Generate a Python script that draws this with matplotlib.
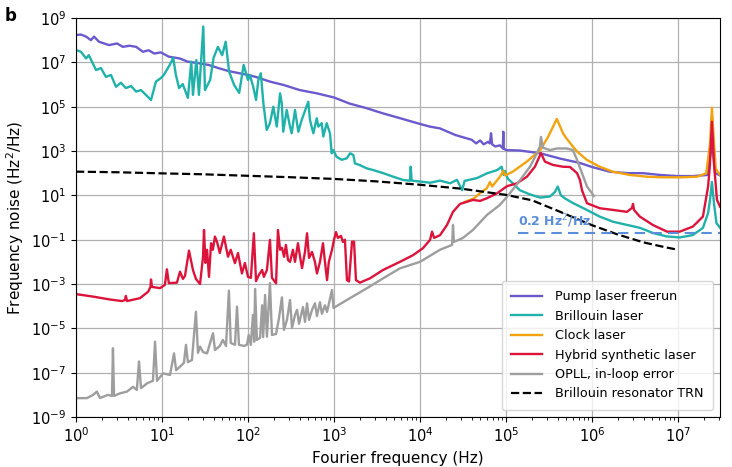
import matplotlib
matplotlib.use("Agg")
import matplotlib.pyplot as plt
from matplotlib.ticker import LogLocator, NullLocator, NullFormatter

# ---------------- data (frequency in Hz, noise in Hz^2/Hz) ----------------
pump = [(1, 1.7e8), (1.14, 1.8e8), (1.31, 1.45e8), (1.49, 1.0e8), (1.62, 1.45e8), (1.85, 8.5e7),
        (2.42, 6.0e7), (3.0, 7.1e7), (3.5, 5.0e7), (4.2, 5.6e7), (5.0, 5.0e7), (6.0, 3.0e7),
        (7.0, 3.5e7), (8.1, 2.5e7), (9.7, 2.8e7), (12, 1.8e7), (16, 1.5e7), (20, 1.07e7),
        (27, 9.1e6), (35, 7.6e6), (46, 5.4e6), (60, 4.0e6), (80, 3.2e6), (100, 2.7e6),
        (123, 2.2e6), (180, 1.35e6), (260, 9.5e5), (400, 5.6e5), (630, 4.0e5), (1000, 2.6e5),
        (1500, 1.4e5), (2400, 8.5e4), (3700, 5.0e4), (5900, 3.0e4), (9300, 1.8e4), (1.3e4, 1.26e4),
        (1.7e4, 1.05e4), (2.6e4, 5.2e3), (4.0e4, 3.2e3), (4.5e4, 2.2e3), (5.0e4, 3.0e3),
        (5.5e4, 2.0e3), (6.2e4, 2.6e3), (6.5e4, 2.2e3), (6.7e4, 6.3e3), (6.9e4, 2.0e3),
        (7.5e4, 1.6e3), (8.5e4, 1.8e3), (9.2e4, 1.3e3), (9.3e4, 7.4e3), (9.4e4, 1.3e3),
        (1.0e5, 1.1e3), (1.45e5, 1.05e3), (2.5e5, 790), (4.3e5, 450), (7.2e5, 290),
        (1.0e6, 190), (1.6e6, 117), (2.6e6, 100), (3.9e6, 100), (6.2e6, 83), (9.8e6, 74),
        (1.5e7, 74), (2.2e7, 83), (2.42e7, 1.0e3), (2.48e7, 3.2e4), (2.55e7, 1.0e3),
        (2.7e7, 100), (3.08e7, 80)]

brillouin = [(1, 3.6e7), (1.14, 3.0e7), (1.31, 1.5e7), (1.41, 2.1e7), (1.71, 4.5e6), (1.95, 5.5e6),
             (2.23, 2.2e6), (2.55, 2.7e6), (2.92, 7.9e5), (3.33, 1.2e6), (3.8, 6.9e5), (4.37, 8.5e5),
             (5.0, 4.8e5), (5.7, 5.6e5), (6.5, 3.4e5), (7.45, 2.0e5), (8.5, 1.35e6), (9.7, 1.95e6),
             (10.5, 2.7e6), (12.3, 7.6e6), (13.5, 1.6e7), (14.5, 2.7e6), (15.8, 6.9e5), (17.4, 1.05e6),
             (20, 2.5e5), (21.9, 1.07e7), (22.9, 3.4e5), (25.1, 1.26e7), (26.9, 3.4e5), (30.2, 4.1e8),
             (31.6, 5.6e5), (36.3, 1.6e6), (39.8, 1.6e7), (44.7, 5.0e7), (50.1, 2.1e7), (55, 8.5e7),
             (60.3, 3.8e6), (69, 9.5e5), (79, 4.2e5), (89, 7.6e6), (100, 1.6e6), (105, 2.7e6),
             (115, 7.9e5), (124, 2.0e5), (132, 1.6e6), (141, 3.2e6), (151, 1.4e5), (165, 8.9e3),
             (180, 1.8e4), (197, 1.0e5), (216, 1.26e4), (236, 4.0e5), (247, 1.4e5), (257, 7.4e3),
             (282, 7.1e4), (308, 1.26e4), (322, 6.3e3), (352, 7.1e4), (385, 7.4e3), (421, 2.5e4),
             (502, 1.66e5), (526, 2.5e4), (575, 6.3e3), (630, 3.0e4), (657, 1.26e4), (719, 1.8e4),
             (751, 4.5e3), (822, 1.8e4), (898, 6.3e3), (940, 790), (982, 1.1e3), (1070, 550),
             (1230, 400), (1410, 470), (1540, 790), (1680, 660), (1750, 280), (2000, 230),
             (2400, 165), (2860, 138), (3740, 100), (4900, 69), (6400, 49), (7650, 46), (7800, 195),
             (8000, 46), (1e4, 42), (1.31e4, 37), (1.71e4, 46), (2.24e4, 35), (2.69e4, 50),
             (3.09e4, 17), (3.3e4, 45), (4.6e4, 60), (6.0e4, 98), (7.9e4, 138), (8.9e4, 195),
             (9.4e4, 83), (9.7e4, 126), (1.05e5, 56), (1.2e5, 35), (1.45e5, 17), (1.9e5, 11),
             (2.5e5, 7.9), (3.25e5, 8.9), (3.7e5, 14), (4.0e5, 25), (4.35e5, 10), (4.9e5, 7.1),
             (6.0e5, 4.5), (8.7e5, 2.2), (1.23e6, 1.1), (1.74e6, 0.65), (2.57e6, 0.46),
             (3.63e6, 0.34), (5.1e6, 0.2), (7.4e6, 0.14), (1.05e7, 0.126), (1.48e7, 0.16),
             (1.95e7, 0.34), (2.24e7, 1.6), (2.36e7, 6.3), (2.48e7, 40), (2.63e7, 4.0),
             (2.8e7, 0.56), (3.08e7, 0.35)]

clock = [(3.3e4, 5.0), (4.2e4, 7.1), (5.0e4, 12.6), (6.0e4, 21), (6.5e4, 40), (6.9e4, 25),
         (8.5e4, 69), (9.3e4, 126), (9.8e4, 79), (1.2e5, 117), (1.74e5, 330), (2.5e5, 1.1e3),
         (3.1e5, 4.5e3), (3.9e5, 2.8e4), (4.6e5, 6.3e3), (5.1e5, 3.5e3), (6.0e5, 1.6e3),
         (6.7e5, 950), (8.7e5, 400), (1.23e6, 195), (1.74e6, 117), (2.76e6, 83), (4.4e6, 69),
         (6.7e6, 65), (1.05e7, 65), (1.66e7, 69), (2.13e7, 98), (2.36e7, 2.2e3), (2.48e7, 8.9e4),
         (2.63e7, 2.0e3), (2.75e7, 160), (3.08e7, 83)]

hybrid = [(1, 3.5e-4), (1.58, 2.7e-4), (2.48, 2.0e-4), (3.43, 1.7e-4), (3.72, 1.9e-4), (3.8, 2.9e-4),
          (3.92, 1.7e-4), (5.55, 2.3e-4), (6.9, 4.5e-4), (7.35, 7.4e-4), (7.45, 1.6e-3), (7.65, 7.4e-4),
          (9.5, 6.5e-4), (10.8, 9.1e-4), (11.4, 4.6e-3), (12, 1.1e-3), (14.9, 1.15e-3), (16.2, 3.6e-3),
          (17.5, 1.7e-3), (18.5, 2.3e-3), (20.6, 3.2e-2), (22.9, 4.3e-3), (24.8, 1.7e-3), (27.7, 1.0e-3),
          (30, 1.7e-2), (30.8, 0.275), (32, 9e-3), (33.4, 3.5e-2), (35.2, 2.1e-3), (37.2, 6.9e-2),
          (39, 3.5e-2), (41.3, 0.138), (44, 7.1e-2), (47, 2.5e-2), (52.5, 0.138), (58.5, 1.7e-2),
          (63, 3.5e-2), (70.5, 8.7e-3), (76.5, 2.5e-2), (85, 3.0e-3), (92, 8.9e-3), (100, 2.1e-3),
          (108, 1.9e-3), (117, 0.195), (124, 1.35e-3), (134, 2.6e-3), (146, 4.3e-3), (153, 2.1e-3),
          (166, 4.3e-3), (180, 9.8e-2), (190, 1.9e-3), (212, 1.07e-3), (223, 0.275), (236, 3.5e-2),
          (248, 4.3e-2), (263, 1.7e-2), (276, 5.8e-2), (292, 1.2e-2), (308, 1.0e-2), (333, 3.5e-2),
          (352, 1.0e-2), (381, 6.9e-2), (403, 1.7e-2), (425, 5.2e-3), (460, 2.8e-2), (486, 0.195),
          (513, 1.5e-2), (555, 2.8e-2), (600, 1.0e-2), (634, 3.0e-3), (687, 1.0e-2), (745, 6.9e-2),
          (785, 1.0e-2), (830, 1.5e-3), (871, 1.0e-2), (948, 3.5e-2), (1000, 9.8e-2), (1055, 0.22),
          (1110, 0.12), (1205, 0.148), (1270, 7.9e-2), (1340, 0.1), (1415, 1.5e-3), (1495, 1.3e-3),
          (1620, 8.1e-2), (1710, 8.1e-2), (1800, 1.5e-3), (2000, 1.15e-3), (2620, 1.8e-3),
          (3720, 4.3e-3), (5850, 1.0e-2), (8300, 2.0e-2), (1.08e4, 4.1e-2), (1.31e4, 9.8e-2),
          (1.38e4, 0.23), (1.46e4, 0.12), (1.71e4, 0.16), (2.06e4, 0.46), (2.42e4, 1.8),
          (2.92e4, 4.1), (3.52e4, 5.1), (4.13e4, 6.2), (5.0e4, 5.6), (6.0e4, 7.4), (7.85e4, 12.3),
          (1.03e5, 26), (1.34e5, 35), (1.75e5, 69), (2.17e5, 195), (2.55e5, 800), (2.84e5, 330),
          (3.52e5, 235), (4.6e5, 195), (5.55e5, 190), (6.7e5, 100), (7.25e5, 49), (7.65e5, 17),
          (8.75e5, 4.4), (1.24e6, 2.6), (1.75e6, 2.2), (2.55e6, 1.8), (2.92e6, 2.7), (3.0e6, 4.1),
          (3.08e6, 2.2), (3.6e6, 1.1), (5.1e6, 0.46), (7.45e6, 0.23), (1.05e7, 0.23), (1.49e7, 0.39),
          (1.95e7, 1.1), (2.24e7, 25), (2.35e7, 235), (2.48e7, 2.1e4), (2.63e7, 235), (2.84e7, 6.2),
          (3.08e7, 3.1)]

opll = [(1, 7.1e-9), (1.34, 7.1e-9), (1.58, 1.0e-8), (1.75, 1.4e-8), (1.9, 7.2e-9), (2.36, 1.0e-8),
        (2.62, 8.9e-9), (2.69, 1.26e-6), (2.77, 8.9e-9), (3.25, 1.17e-8), (3.92, 1.4e-8), (4.6, 2.3e-8),
        (5.1, 1.66e-8), (5.4, 3.2e-7), (5.7, 2.0e-8), (6.7, 3.3e-8), (7.85, 4.3e-8), (8.3, 2.5e-6),
        (8.75, 4.3e-8), (10.3, 9.3e-8), (12.4, 7.9e-8), (13.8, 7.4e-7), (14.6, 1.3e-7), (16.2, 1.86e-7),
        (18, 2.8e-7), (19, 1.8e-6), (20, 3.0e-7), (22.3, 3.7e-7), (24.8, 5.6e-5), (26.2, 7.9e-7),
        (27.7, 1.5e-6), (30, 8.5e-7), (33.4, 7.4e-7), (39.2, 6.0e-6), (41.3, 1.05e-6), (47, 1.6e-6),
        (51, 3.0e-6), (55.5, 1.6e-6), (60, 5.0e-4), (63, 2.2e-6), (70.6, 1.8e-6), (74.5, 9.5e-5),
        (78.5, 1.8e-6), (90, 1.6e-6), (97, 1.8e-6), (102, 5.0e-6), (108, 1.8e-6), (114, 4.0e-5),
        (118, 2.5e-6), (121, 6.0e-4), (127, 3.0e-6), (138, 3.7e-6), (146, 1.1e-4), (150, 4.0e-6),
        (158, 3.2e-4), (166, 4.2e-6), (180, 1.1e-3), (190, 5.0e-6), (212, 5.6e-6), (229, 2.8e-5),
        (248, 2.5e-4), (262, 8.5e-6), (284, 2.4e-5), (308, 1.9e-4), (325, 1.05e-5), (352, 4.0e-5),
        (372, 6.8e-5), (392, 1.6e-5), (436, 9.1e-5), (460, 1.95e-5), (486, 1.35e-4), (513, 2.4e-5),
        (555, 6.8e-5), (601, 1.35e-4), (634, 3.6e-5), (687, 1.5e-4), (724, 4.5e-5), (785, 1.1e-4),
        (830, 5.5e-5), (948, 5.4e-4), (987, 8.3e-5), (1535, 2.3e-4), (2420, 6.5e-4), (3720, 1.8e-3),
        (5850, 5.1e-3), (1e4, 1.0e-2), (1.71e4, 3.5e-2), (2.36e4, 5.8e-2), (2.42e4, 0.46),
        (2.48e4, 7.9e-2), (3.16e4, 0.12), (4.13e4, 0.275), (6.0e4, 1.3), (8.5e4, 3.7),
        (1.11e5, 12.3), (1.46e5, 49), (1.9e5, 195), (2.29e5, 790), (2.48e5, 1.6e3), (2.55e5, 4.3e3),
        (2.69e5, 1.4e3), (3.25e5, 1.1e3), (3.92e5, 1.3e3), (5.1e5, 1.3e3), (6.0e5, 1.1e3),
        (6.7e5, 400), (7.65e5, 100), (8.75e5, 25), (1.0e6, 12.3), (1.05e6, 9.3)]

trn = [(1, 117), (3, 110), (10, 98), (30, 89), (100, 76), (300, 66), (1000, 55), (3000, 43),
       (1e4, 30), (3e4, 20), (1e5, 10.5), (2e5, 6.0), (4e5, 2.0), (7e5, 0.8), (1e6, 0.45),
       (2e6, 0.17), (4e6, 0.075), (7e6, 0.046), (1e7, 0.035)]

level_f = [1.38e5, 3.08e7]
level_s = [0.2, 0.2]
level_text = "0.2 Hz$^2$/Hz"

labels = ["Pump laser freerun", "Brillouin laser", "Clock laser",
          "Hybrid synthetic laser", "OPLL, in-loop error", "Brillouin resonator TRN"]
x_ticks = [1e0, 1e1, 1e2, 1e3, 1e4, 1e5, 1e6, 1e7]
y_ticks = [1e-9, 1e-7, 1e-5, 1e-3, 1e-1, 1e1, 1e3, 1e5, 1e7, 1e9]


def cols(pairs):
    return [p[0] for p in pairs], [p[1] for p in pairs]


fig = plt.figure(figsize=(7.32, 4.67), dpi=100)
ax = fig.add_axes([76 / 732, 1 - 417 / 467, (720 - 76) / 732, (417 - 18) / 467])

lw = 1.7
ax.plot(*cols(pump), color="#6A5ACD", lw=lw, label=labels[0])
ax.plot(*cols(brillouin), color="#20B2AA", lw=lw, label=labels[1])
ax.plot(*cols(clock), color="#F2A30F", lw=lw, label=labels[2])
ax.plot(*cols(hybrid), color="#DC143C", lw=lw, label=labels[3])
ax.plot(*cols(opll), color="#9E9E9E", lw=lw, label=labels[4])
ax.plot(*cols(trn), color="black", lw=1.6, ls="--", label=labels[5])

ax.plot(level_f, level_s, color="#5B8DD9", lw=1.5, ls=(0, (5, 3)))
ax.text(level_f[0], 0.27, level_text, color="#5B8DD9", fontsize=9,
        fontweight="bold", ha="left", va="bottom")

ax.set_xscale("log")
ax.set_yscale("log")
ax.set_xlim(1, 3.08e7)
ax.set_ylim(1e-9, 1e9)
ax.set_xticks(x_ticks)
ax.set_yticks(y_ticks)
ax.xaxis.set_minor_locator(LogLocator(base=10, subs=range(2, 10), numticks=30))
ax.xaxis.set_minor_formatter(NullFormatter())
ax.yaxis.set_minor_locator(NullLocator())
ax.tick_params(labelsize=10.5)
ax.grid(True, which="major", color="#b0b0b0", lw=0.9)
ax.set_axisbelow(True)

ax.set_xlabel("Fourier frequency (Hz)", fontsize=11)
ax.set_ylabel("Frequency noise (Hz$^2$/Hz)", fontsize=11)

ax.legend(loc="lower right", fontsize=9.2, framealpha=0.8, handlelength=2.4,
          handletextpad=1.0, labelspacing=0.5, borderpad=0.75, borderaxespad=0.55)

fig.text(0.006, 0.985, "b", fontsize=12, fontweight="bold", ha="left", va="top")

fig.savefig("out.png", dpi=100)
